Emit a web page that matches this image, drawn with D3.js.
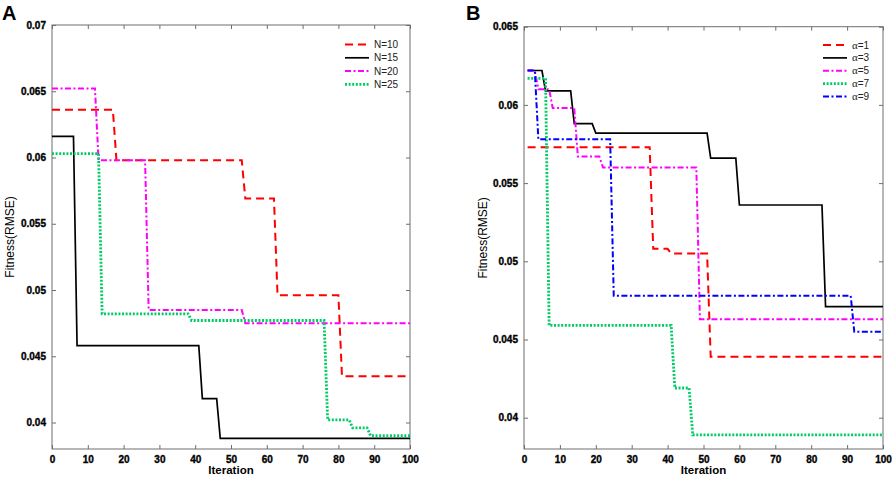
<!DOCTYPE html>
<html>
<head>
<meta charset="utf-8">
<script src="https://cdn.jsdelivr.net/npm/d3@7"></script>
<style>
  body { margin: 0; background: #fff; }
  .tick text { font-family: "Liberation Sans", Arial, sans-serif; font-weight: bold; font-size: 10px; fill: #000; stroke: #000; stroke-width: 0.35px; }
</style>
</head>
<body>
<div id="chart"></div>
<script>
// Tick values shared by both panels
var iterTicks = [0, 10, 20, 30, 40, 50, 60, 70, 80, 90, 100];
var fitTicksA = [0.04, 0.045, 0.05, 0.055, 0.06, 0.065, 0.07];
var fitTicksB = [0.04, 0.045, 0.05, 0.055, 0.06, 0.065];

// Panel A: population size. Each series = iteration where value starts + value
var namesA = ["N=10", "N=15", "N=20", "N=25"];
var n10Iter = [0, 18, 54, 63, 81];
var n10Fit = [0.0636, 0.0598, 0.0569, 0.0496, 0.0435];
var n15Iter = [0, 7, 42, 47];
var n15Fit = [0.0616, 0.0458, 0.0418, 0.0388];
var n20Iter = [0, 13, 27, 54];
var n20Fit = [0.0652, 0.0598, 0.0485, 0.0475];
var n25Iter = [0, 14, 39, 77, 84, 89];
var n25Fit = [0.0603, 0.0482, 0.0477, 0.0402, 0.0396, 0.0390];

// Panel B: alpha values
var namesB = ["1", "3", "5", "7", "9"];
var a1Iter = [1, 36, 41, 52];
var a1Fit = [0.0573, 0.0508, 0.0505, 0.0439];
var a3Iter = [1, 6, 14, 20, 52, 60, 84];
var a3Fit = [0.0622, 0.0609, 0.0588, 0.0582, 0.0566, 0.0536, 0.0471];
var a5Iter = [1, 4, 8, 15, 22, 49];
var a5Fit = [0.0622, 0.0610, 0.0598, 0.0567, 0.0560, 0.0463];
var a7Iter = [1, 7, 42, 47];
var a7Fit = [0.0617, 0.0459, 0.0419, 0.0389];
var a9Iter = [1, 4, 25, 92];
var a9Fit = [0.0622, 0.0578, 0.0478, 0.0455];

var lastIter = 100;

// line styles, in legend order
var styles = [
    { color: "#ff0000", width: 2, dash: "8,5" },
    { color: "#000000", width: 1.7, dash: null },
    { color: "#ff00ff", width: 2, dash: "6,2.5,2,2.5" },
    { color: "#00cc66", width: 2.8, dash: "2,1.6" },
    { color: "#0000ff", width: 2, dash: "6,2.5,2,2.5" }
];

var svg = d3.select("#chart")
    .append("svg")
    .attr("width", 892)
    .attr("height", 480);

// turn step starts into polyline points (value holds until the next start)
function stepPoints(iters, fits) {
    var pts = [];
    for (var i = 0; i < iters.length; i++) {
        pts.push([iters[i], fits[i]]);
        var end = i < iters.length - 1 ? iters[i + 1] - 1 : lastIter;
        if (end > iters[i]) pts.push([end, fits[i]]);
    }
    return pts;
}

function fmt(v) {
    return String(+v.toFixed(3));
}

function drawPanel(p) {
    var g = svg.append("g");

    var x = d3.scaleLinear().domain([0, 100]).range([p.left, p.right]);
    var y = d3.scaleLinear().domain([0.038, p.yMax]).range([p.bottom, p.top]);

    // box
    g.append("rect")
        .attr("x", p.left)
        .attr("y", p.top)
        .attr("width", p.right - p.left)
        .attr("height", p.bottom - p.top)
        .attr("fill", "none")
        .attr("stroke", "#6e6e6e")
        .attr("stroke-width", 1);

    // axes with inward ticks on all four sides
    var bottom = g.append("g")
        .attr("transform", `translate(0, ${p.bottom})`)
        .call(d3.axisBottom(x).tickValues(iterTicks).tickSize(-4).tickPadding(7).tickFormat(d3.format("d")));
    var top = g.append("g")
        .attr("transform", `translate(0, ${p.top})`)
        .call(d3.axisTop(x).tickValues(iterTicks).tickSize(-4).tickFormat(""));
    var left = g.append("g")
        .attr("transform", `translate(${p.left}, 0)`)
        .call(d3.axisLeft(y).tickValues(p.yTicks).tickSize(-4).tickPadding(6).tickFormat(fmt));
    var right = g.append("g")
        .attr("transform", `translate(${p.right}, 0)`)
        .call(d3.axisRight(y).tickValues(p.yTicks).tickSize(-4).tickFormat(""));

    [bottom, top, left, right].forEach(function(a) {
        a.select(".domain").remove();
        a.selectAll(".tick line").attr("stroke", "#6e6e6e");
    });

    // series
    var line = d3.line()
        .x(d => x(d[0]))
        .y(d => y(d[1]));

    p.series.forEach(function(s, i) {
        var st = styles[i];
        g.append("path")
            .datum(stepPoints(s[0], s[1]))
            .attr("d", line)
            .attr("fill", "none")
            .attr("stroke", st.color)
            .attr("stroke-width", st.width)
            .attr("stroke-dasharray", st.dash);
    });

    // legend
    p.names.forEach(function(name, i) {
        var st = styles[i];
        var ly = p.legY + i * p.legStep;
        g.append("line")
            .attr("x1", p.legX)
            .attr("x2", p.legX + 24)
            .attr("y1", ly)
            .attr("y2", ly)
            .attr("stroke", st.color)
            .attr("stroke-width", st.width)
            .attr("stroke-dasharray", st.dash);
        var t = g.append("text")
            .attr("x", p.legX + 29)
            .attr("y", ly + 3.5)
            .style("font-family", "Liberation Sans, Arial, sans-serif")
            .style("font-size", "10px")
            .style("fill", "#222");
        if (p.alpha) {
            t.append("tspan")
                .style("font-family", "Liberation Serif, Times New Roman, serif")
                .style("font-size", "11px")
                .text("\u03b1");
            t.append("tspan").text("=" + name);
        } else {
            t.text(name);
        }
    });

    // axis titles
    g.append("text")
        .attr("x", (p.left + p.right) / 2)
        .attr("y", 474)
        .attr("text-anchor", "middle")
        .style("font-family", "Liberation Sans, Arial, sans-serif")
        .style("font-weight", "bold")
        .style("font-size", "11.5px")
        .text("Iteration");

    g.append("text")
        .attr("transform", `translate(${p.yLabelX}, ${(p.top + p.bottom) / 2}) rotate(-90)`)
        .attr("text-anchor", "middle")
        .style("font-family", "Liberation Sans, Arial, sans-serif")
        .style("font-size", "12px")
        .text("Fitness(RMSE)");

    // panel letter
    g.append("text")
        .attr("x", p.letterX)
        .attr("y", 20)
        .style("font-family", "Liberation Sans, Arial, sans-serif")
        .style("font-weight", "bold")
        .style("font-size", "20px")
        .text(p.letter);
}

drawPanel({
    letter: "A", letterX: 2,
    left: 52, right: 410, top: 25, bottom: 449,
    yMax: 0.07, yTicks: fitTicksA, yLabelX: 14,
    names: namesA, alpha: false,
    series: [[n10Iter, n10Fit], [n15Iter, n15Fit], [n20Iter, n20Fit], [n25Iter, n25Fit]],
    legX: 345, legY: 44.5, legStep: 13.3
});

drawPanel({
    letter: "B", letterX: 466,
    left: 524, right: 883, top: 26.7, bottom: 449,
    yMax: 0.065, yTicks: fitTicksB, yLabelX: 487,
    names: namesB, alpha: true,
    series: [[a1Iter, a1Fit], [a3Iter, a3Fit], [a5Iter, a5Fit], [a7Iter, a7Fit], [a9Iter, a9Fit]],
    legX: 823, legY: 45, legStep: 12.9
});
</script>
</body>
</html>
